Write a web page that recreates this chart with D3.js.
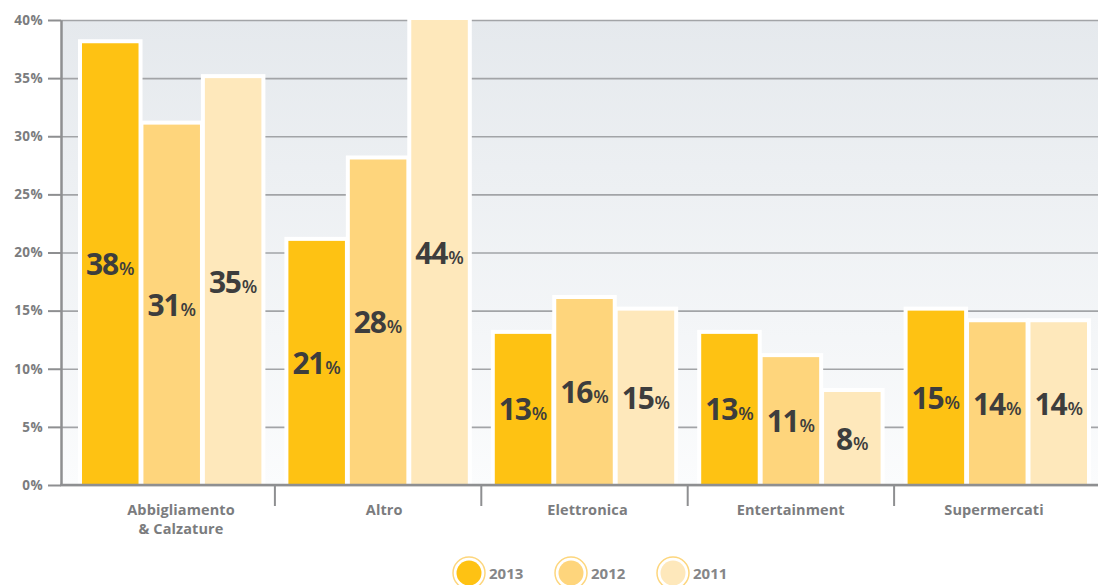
<!DOCTYPE html>
<html>
<head>
<meta charset="utf-8">
<script src="https://cdn.jsdelivr.net/npm/d3@7"></script>
<style>
  body { margin: 0; background: #fff; }
  text { font-family: "Open Sans", "Liberation Sans", sans-serif; }
</style>
</head>
<body>
<svg id="chart" width="1098" height="585"></svg>
<script>
// Retail sector shares by year
const categories = ["Abbigliamento\n& Calzature", "Altro", "Elettronica", "Entertainment", "Supermercati"];
const years = ["2013", "2012", "2011"];
const values2013 = [38, 21, 13, 13, 15];
const values2012 = [31, 28, 16, 11, 14];
const values2011 = [35, 44, 15, 8, 14];
const yTicks = [0, 5, 10, 15, 20, 25, 30, 35, 40];

const seriesValues = { "2013": values2013, "2012": values2012, "2011": values2011 };
const colors = { "2013": "#fec213", "2012": "#fed57c", "2011": "#fee8bb" };

const plot = { left: 61, right: 1098, top: 20, bottom: 485 };

const svg = d3.select("#chart");

// background gradient for the plot area
const defs = svg.append("defs");
const grad = defs.append("linearGradient").attr("id", "bg").attr("x1", 0).attr("y1", 0).attr("x2", 0).attr("y2", 1);
grad.append("stop").attr("offset", "0%").attr("stop-color", "#e5e9ed");
grad.append("stop").attr("offset", "100%").attr("stop-color", "#fbfcfd");

svg.append("rect")
  .attr("x", plot.left).attr("y", plot.top)
  .attr("width", plot.right - plot.left).attr("height", plot.bottom - plot.top)
  .attr("fill", "url(#bg)");

const y = d3.scaleLinear().domain([0, 40]).range([plot.bottom, plot.top]).clamp(true);
const x0 = d3.scaleBand().domain(categories).range([68.5, 1100.5]);
const x1 = d3.scaleBand().domain(years).range([13.5, x0.bandwidth() - 13.5]).paddingInner(0.08);
const labelX = d3.scalePoint().domain(categories).range([181, 994]);

// gridlines
svg.append("g")
  .attr("transform", `translate(${plot.left},0)`)
  .call(d3.axisLeft(y).tickValues(yTicks).tickSize(-(plot.right - plot.left)).tickFormat(""))
  .call(g => g.select(".domain").remove())
  .call(g => g.selectAll("line").attr("stroke", "#a2a4a7").attr("stroke-width", 1.6));

// bars
const rows = categories.map((c, i) => ({ cat: c, bars: years.map(yr => ({ year: yr, value: seriesValues[yr][i] })) }));

const groups = svg.append("g").selectAll("g").data(rows).join("g")
  .attr("transform", d => `translate(${x0(d.cat)},0)`);

// white outline behind each bar
groups.selectAll("rect.halo").data(d => d.bars).join("rect")
  .attr("class", "halo")
  .attr("x", d => x1(d.year) - 4)
  .attr("y", d => y(d.value) - 4)
  .attr("width", x1.bandwidth() + 8)
  .attr("height", d => plot.bottom - y(d.value) + 4)
  .attr("fill", "#fff");

groups.selectAll("rect.bar").data(d => d.bars).join("rect")
  .attr("class", "bar")
  .attr("x", d => x1(d.year))
  .attr("y", d => y(d.value))
  .attr("width", x1.bandwidth())
  .attr("height", d => plot.bottom - y(d.value))
  .attr("fill", d => colors[d.year]);

// value labels
const lbl = groups.selectAll("text.val").data(d => d.bars).join("text")
  .attr("class", "val")
  .attr("x", d => x1(d.year) + x1.bandwidth() / 2)
  .attr("y", d => (y(d.value) + plot.bottom) / 2 + 11)
  .attr("text-anchor", "middle")
  .attr("fill", "#3d3d3d");
lbl.append("tspan").attr("font-size", 30).attr("font-weight", 700).attr("letter-spacing", -1.2).text(d => d.value);
lbl.append("tspan").attr("font-size", 18).attr("font-weight", 600).attr("dx", 1).text("%");

// left axis
svg.append("g")
  .attr("transform", `translate(${plot.left},0)`)
  .call(d3.axisLeft(y).tickValues(yTicks).tickSize(13).tickSizeOuter(0).tickPadding(5).tickFormat(d => d + "%"))
  .call(g => g.select(".domain").attr("stroke", "#8e8f91").attr("stroke-width", 2.5))
  .call(g => g.selectAll(".tick line").attr("stroke", "#8e8f91").attr("stroke-width", 2))
  .call(g => g.selectAll(".tick text")
    .attr("fill", "#7b7c7e").attr("font-size", 13.5).attr("font-weight", 700)
    .attr("letter-spacing", 0.4)
    .style("font-family", '"Open Sans", sans-serif'));

// bottom axis with separators between categories
svg.append("line")
  .attr("x1", plot.left - 1).attr("x2", plot.right)
  .attr("y1", plot.bottom).attr("y2", plot.bottom)
  .attr("stroke", "#8e8f91").attr("stroke-width", 2.5);

svg.append("g").selectAll("line").data(categories.slice(1)).join("line")
  .attr("x1", d => x0(d)).attr("x2", d => x0(d))
  .attr("y1", plot.bottom).attr("y2", plot.bottom + 21)
  .attr("stroke", "#8e8f91").attr("stroke-width", 2);

const catText = svg.append("g").selectAll("text").data(categories).join("text")
  .attr("x", d => labelX(d))
  .attr("y", plot.bottom + 30)
  .attr("text-anchor", "middle")
  .attr("fill", "#7b7c7e")
  .attr("font-size", 14.5)
  .attr("font-weight", 700)
  .attr("letter-spacing", 0.1);
catText.selectAll("tspan").data(d => d.split("\n")).join("tspan")
  .attr("x", function () { return d3.select(this.parentNode).attr("x"); })
  .attr("dy", (d, i) => i === 0 ? 0 : 18.5)
  .text(d => d);

// legend
const legendX = d3.scalePoint().domain(years).range([469, 673]);
const leg = svg.append("g").selectAll("g").data(years).join("g")
  .attr("transform", d => `translate(${legendX(d)},573)`);
leg.append("circle").attr("r", 16).attr("fill", "#fff").attr("stroke", "#fdd67d").attr("stroke-width", 1.5);
leg.append("circle").attr("r", 12.5).attr("fill", d => colors[d]);
leg.append("text")
  .attr("x", 20).attr("y", 6)
  .attr("fill", "#858688").attr("font-size", 15).attr("font-weight", 700)
  .text(d => d);
</script>
</body>
</html>
